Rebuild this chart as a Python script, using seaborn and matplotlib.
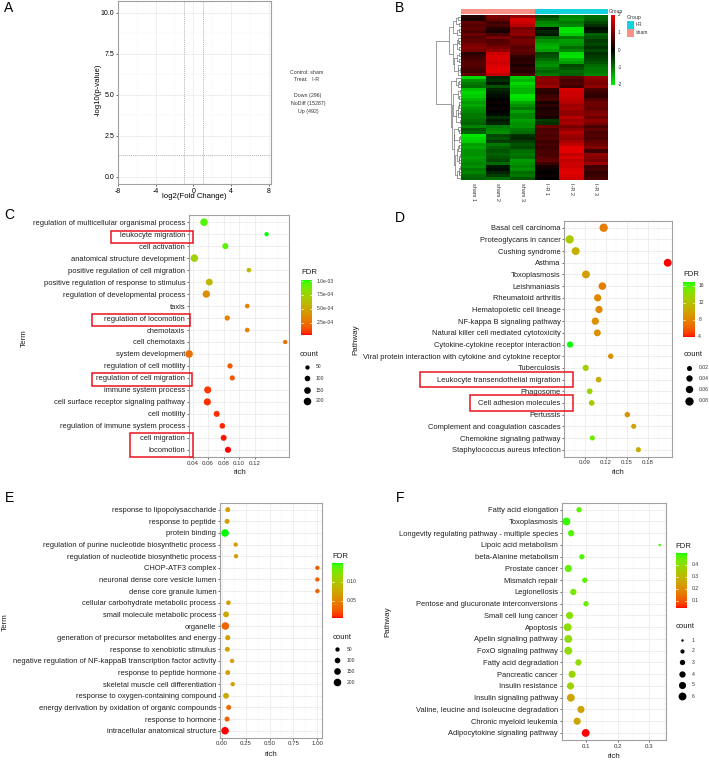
import numpy as np
import pandas as pd
import matplotlib
matplotlib.use("Agg")
import matplotlib.pyplot as plt
from matplotlib.colors import ListedColormap, LinearSegmentedColormap, Normalize
from matplotlib.patches import Rectangle
import seaborn as sns

sns.set_theme(style="white")
plt.rcParams['font.family'] = ['Liberation Sans', 'DejaVu Sans']

# ---------------------------------------------------------------- data
# Panel A (volcano summary)
A_DOWN, A_NODIFF, A_UP = 296, 15287, 492
A_CONTROL, A_TREAT = "sham", "I-R"
FC_CUTOFF = 1.0
P_CUTOFF = 0.05
A_XTICKS = [-8, -4, 0, 4, 8]
A_YTICKS = [0.0, 2.5, 5.0, 7.5, 10.0]

# Panel B (heatmap, z-scores per gene)
B_SAMPLES = ["sham 1", "sham 2", "sham 3", "I-R 1", "I-R 2", "I-R 3"]
B_GROUP = ["sham", "sham", "sham", "I-R", "I-R", "I-R"]
SHAM1 = [0.7, 0.3, 0.2, 0.8, 0.7, 0.8, 0.6, 0.9, 0.8, 1.0, 1.1, 1.0, 0.3, 0.5, 0.6, 0.6, 0.7, 0.5, 0.8, 0.7,
         -1.8, -1.2, -1.0, -0.9, -1.1, -0.7, -0.8, -1.3, -1.4, -1.2, -1.6, -1.7, -1.5, -1.8, -1.3, -1.1, -1.2,
         -1.4, -1.0, -0.9, -0.8, -1.0, -1.2, -1.3, -1.1, -1.2, -1.9, -1.8, -1.7, -1.2, -1.0, -1.1, -0.9, -0.8]
SHAM2 = [1.0, 1.0, 0.9, 0.5, 0.6, 0.3, 0.2, 0.6, 0.7, 0.8, 1.0, 1.2, 1.7, 1.8, 1.8, 1.9, 1.8, 1.9, 1.6, 1.7,
         -0.3, -0.4, -0.2, -0.7, -1.0, -1.1, -1.2, -1.0, -0.8, -0.7, -0.3, -0.1, 0.0, -0.2, 0.1, 0.0, 0.1,
         0.0, -0.1, -0.2, -0.3, -0.4, -0.8, -0.7, -0.9, -0.6, -0.6, -0.7, -0.5, -0.2, -0.1, -0.3, -0.5, -0.9]
SHAM3 = [0.8, 1.2, 1.8, 1.7, 1.5, 1.0, 1.1, 1.2, 1.0, 0.9, 0.7, 0.8, 0.7, 0.4, 0.3, 0.4, 0.2, 0.3, 0.6, 0.4,
         -1.7, -1.5, -1.8, -1.6, -1.2, -1.0, -0.9, -0.7, -0.6, -0.9, -1.5, -1.9, -1.8, -1.5, -1.4, -1.3, -1.0,
         -1.2, -1.1, -1.3, -1.2, -1.1, -1.0, -0.9, -1.2, -1.3, -0.4, -0.3, -0.5, -1.1, -1.2, -0.9, -1.0, -0.7]
IR1 = [-0.9, -0.6, -0.8, -1.1, -1.2, -0.1, -0.3, -0.2, -1.2, -1.4, -1.5, -1.3, -0.6, -0.7, -0.9, -1.0, -1.2, -0.8, -1.0, -1.1,
       1.1, 1.2, 1.1, 1.3, 0.9, 0.6, 0.7, 0.6, 0.5, 0.6, 0.4, 0.5, 0.6, 0.3, 0.2, 0.3, 0.2,
       0.4, 0.3, -0.5, -0.4, 0.2, 0.6, 0.7, 0.5, 0.8, 0.6, 0.7, 0.5, 0.2, 0.1, 0.0, 0.1, 0.0]
IR2 = [-1.0, -1.1, -1.2, -1.0, -1.1, -1.9, -1.9, -1.7, -1.3, -1.2, -0.9, -1.1, -1.8, -1.9, -1.5, -0.7, -0.6, -0.9, -0.8, -1.3,
       0.8, 0.6, 0.7, 0.5, 1.0, 1.2, 1.5, 1.6, 1.9, 1.9, 1.8, 1.7, 1.6, 1.7, 1.5, 1.2, 1.4,
       1.3, 1.2, 1.3, 1.4, 1.5, 1.6, 1.8, 1.7, 1.6, 1.3, 1.2, 1.4, 1.7, 1.8, 1.9, 1.8, 1.7]
IR3 = [-0.7, -0.9, -0.8, -0.6, -0.4, -0.1, -0.2, -0.8, -0.5, -0.6, -0.4, -0.6, -0.4, -0.5, -0.6, -1.0, -0.9, -1.0, -1.1, -0.7,
       1.2, 1.1, 1.0, 1.2, 0.6, 0.8, 0.6, 0.9, 1.1, 0.5, 0.6, 0.4, 0.7, 0.5, 0.9, 1.0, 0.8,
       0.9, 1.1, 1.2, 1.0, 0.9, 1.2, 1.1, 1.3, 1.0, 0.7, 0.6, 0.8, 0.5, 0.6, 0.4, 0.5, 0.6]
B_TICKS = [2, 1, 0, -1, -2]

# Panel C (GO terms)
C_TERMS = ["regulation of multicellular organismal process", "leukocyte migration", "cell activation",
           "anatomical structure development", "positive regulation of cell migration",
           "positive regulation of response to stimulus", "regulation of developmental process", "taxis",
           "regulation of locomotion", "chemotaxis", "cell chemotaxis", "system development",
           "regulation of cell motility", "regulation of cell migration", "immune system process",
           "cell surface receptor signaling pathway", "cell motility", "regulation of immune system process",
           "cell migration", "locomotion"]
C_RICH = [0.0546, 0.1355, 0.0822, 0.0422, 0.1127, 0.0615, 0.0576, 0.1105, 0.0847, 0.1105,
          0.1596, 0.0353, 0.0882, 0.0912, 0.0594, 0.0589, 0.0710, 0.0783, 0.0800, 0.0856]
C_FDR = [9.5e-4, 1.018e-3, 9.4e-4, 7.4e-4, 6.2e-4, 5.9e-4, 3.8e-4, 3.3e-4, 3.3e-4, 3.3e-4,
         2.5e-4, 2.5e-4, 1.7e-4, 1.6e-4, 9e-5, 8e-5, 7e-5, 6e-5, 4.5e-5, 3.1e-5]
C_COUNT = [220, 40, 120, 300, 60, 160, 190, 60, 85, 60, 25, 280, 85, 80, 175, 175, 120, 100, 115, 120]
C_FDR_TICKS = [1.0e-3, 7.5e-4, 5.0e-4, 2.5e-4]
C_FDR_LABELS = ["1.0e-03", "7.5e-04", "5.0e-04", "2.5e-04"]
C_COUNT_BREAKS = [50, 100, 150, 200]

# Panel D (KEGG pathways)
D_TERMS = ["Basal cell carcinoma", "Proteoglycans in cancer", "Cushing syndrome", "Asthma", "Toxoplasmosis",
           "Leishmaniasis", "Rheumatoid arthritis", "Hematopoietic cell lineage", "NF-kappa B signaling pathway",
           "Natural killer cell mediated cytotoxicity", "Cytokine-cytokine receptor interaction",
           "Viral protein interaction with cytokine and cytokine receptor", "Tuberculosis",
           "Leukocyte transendothelial migration", "Phagosome", "Cell adhesion molecules", "Pertussis",
           "Complement and coagulation cascades", "Chemokine signaling pathway", "Staphylococcus aureus infection"]
D_RICH = [0.1168, 0.0680, 0.0766, 0.2087, 0.0914, 0.1149, 0.1082, 0.1101, 0.1048, 0.1077,
          0.0685, 0.1269, 0.0910, 0.1096, 0.0967, 0.0996, 0.1508, 0.1599, 0.1005, 0.1666]
D_FDR = [7.6, 12.7, 10.8, 4.0, 9.4, 7.6, 8.2, 8.2, 8.7, 8.7,
         16.8, 8.7, 13.0, 10.4, 13.3, 12.7, 8.7, 9.8, 15.3, 10.4]
D_COUNT = [0.088, 0.088, 0.072, 0.070, 0.070, 0.064, 0.057, 0.057, 0.057, 0.050,
           0.037, 0.025, 0.037, 0.030, 0.030, 0.030, 0.025, 0.012, 0.016, 0.006]
D_FDR_TICKS = [16, 12, 8, 4]
D_COUNT_BREAKS = [0.02, 0.04, 0.06, 0.08]

# Panel E (GO terms)
E_TERMS = ["response to lipopolysaccharide", "response to peptide", "protein binding",
           "regulation of purine nucleotide biosynthetic process", "regulation of nucleotide biosynthetic process",
           "CHOP-ATF3 complex", "neuronal dense core vesicle lumen", "dense core granule lumen",
           "cellular carbohydrate metabolic process", "small molecule metabolic process", "organelle",
           "generation of precursor metabolites and energy", "response to xenobiotic stimulus",
           "negative regulation of NF-kappaB transcription factor activity", "response to peptide hormone",
           "skeletal muscle cell differentiation", "response to oxygen-containing compound",
           "energy derivation by oxidation of organic compounds", "response to hormone",
           "intracellular anatomical structure"]
E_RICH = [0.063, 0.056, 0.035, 0.146, 0.150, 1.0, 1.0, 1.0, 0.070, 0.045,
          0.038, 0.063, 0.059, 0.108, 0.063, 0.115, 0.045, 0.073, 0.056, 0.035]
E_FDR = [0.066, 0.066, 0.148, 0.066, 0.066, 0.028, 0.028, 0.028, 0.066, 0.074,
         0.030, 0.066, 0.066, 0.066, 0.066, 0.066, 0.074, 0.032, 0.030, 0.0037]
E_COUNT = [75, 75, 230, 35, 35, 15, 15, 15, 60, 110, 300, 80, 70, 30, 70, 45, 110, 75, 80, 340]
E_FDR_TICKS = [0.10, 0.05]
E_COUNT_BREAKS = [50, 100, 150, 200]

# Panel F (KEGG pathways)
F_TERMS = ["Fatty acid elongation", "Toxoplasmosis", "Longevity regulating pathway - multiple species",
           "Lipoic acid metabolism", "beta-Alanine metabolism", "Prostate cancer", "Mismatch repair",
           "Legionellosis", "Pentose and glucuronate interconversions", "Small cell lung cancer", "Apoptosis",
           "Apelin signaling pathway", "FoxO signaling pathway", "Fatty acid degradation", "Pancreatic cancer",
           "Insulin resistance", "Insulin signaling pathway", "Valine, leucine and isoleucine degradation",
           "Chronic myeloid leukemia", "Adipocytokine signaling pathway"]
F_RICH = [0.078, 0.038, 0.053, 0.333, 0.087, 0.044, 0.096, 0.060, 0.100, 0.048,
          0.042, 0.044, 0.044, 0.076, 0.056, 0.051, 0.052, 0.084, 0.072, 0.099]
F_FDR = [0.461, 0.484, 0.470, 0.480, 0.466, 0.456, 0.461, 0.433, 0.447, 0.406,
         0.396, 0.396, 0.396, 0.383, 0.378, 0.369, 0.253, 0.244, 0.253, 0.036]
F_COUNT = [3, 6, 4, 1, 3, 5, 3, 4, 3, 5, 6, 6, 6, 4, 5, 5, 6, 5, 5, 6]
F_FDR_TICKS = [0.4, 0.3, 0.2, 0.1]
F_COUNT_BREAKS = [1, 2, 3, 4, 5, 6]

# ---------------------------------------------------------------- helpers
W, H, DPI = 709, 761, 100
fig = plt.figure(figsize=(W / DPI, H / DPI), dpi=DPI)
fig.patch.set_facecolor("white")


def px_axes(l, t, r, b):
    return fig.add_axes([l / W, 1 - b / H, (r - l) / W, (b - t) / H])


def _srgb_to_lab(rgb):
    rgb = np.asarray(rgb, float)
    lin = np.where(rgb <= 0.04045, rgb / 12.92, ((rgb + 0.055) / 1.055) ** 2.4)
    M = np.array([[0.4124564, 0.3575761, 0.1804375], [0.2126729, 0.7151522, 0.0721750],
                  [0.0193339, 0.1191920, 0.9503041]])
    xyz = M @ lin / np.array([0.95047, 1.0, 1.08883])
    f = np.where(xyz > 0.008856, np.cbrt(xyz), 7.787 * xyz + 16 / 116)
    return np.array([116 * f[1] - 16, 500 * (f[0] - f[1]), 200 * (f[1] - f[2])])


def _lab_to_srgb(lab):
    L, a, b = lab.T
    fy = (L + 16) / 116
    fx = fy + a / 500
    fz = fy - b / 200

    def finv(t):
        return np.where(t ** 3 > 0.008856, t ** 3, (t - 16 / 116) / 7.787)
    xyz = np.stack([finv(fx) * 0.95047, finv(fy), finv(fz) * 1.08883])
    Minv = np.array([[3.2404542, -1.5371385, -0.4985314], [-0.9692660, 1.8760108, 0.0415560],
                     [0.0556434, -0.2040259, 1.0572252]])
    lin = np.clip(Minv @ xyz, 0, 1)
    srgb = np.where(lin <= 0.0031308, 12.92 * lin, 1.055 * lin ** (1 / 2.4) - 0.055)
    return np.clip(srgb.T, 0, 1)


_lo = _srgb_to_lab([1, 0, 0])
_hi = _srgb_to_lab([0, 1, 0])
_t = np.linspace(0, 1, 256)[:, None]
FDR_CMAP = ListedColormap(_lab_to_srgb(_lo + _t * (_hi - _lo)))
HEAT_CMAP = LinearSegmentedColormap.from_list("gbr", ["#00F000", "#000000", "#F00000"])

ov = fig.add_axes([0, 0, 1, 1])
ov.set_zorder(20)
ov.patch.set_alpha(0)
ov.axis("off")


def reset_ov():
    ov.set_xlim(0, W)
    ov.set_ylim(H, 0)


reset_ov()

SIZE_SCALE = 1.08


def area_pt(d_px):
    return (0.72 * d_px * SIZE_SCALE) ** 2


def diam(v, calib):
    (c0, d0), (c1, d1) = calib
    return np.sqrt(d0 ** 2 + (v - c0) * (d1 ** 2 - d0 ** 2) / (c1 - c0))


TXT = "#1e1e1e"


def dot_panel(rect, terms, rich, fdr, count, xlim, xticks, xticklabels, xminor, fdr_lim, calib):
    ax = px_axes(*rect)
    df = pd.DataFrame({"term": terms, "rich": rich, "FDR": fdr, "count": count})
    (c0, d0), (c1, d1) = calib
    sns.scatterplot(data=df, x="rich", y="term", hue="FDR", palette=FDR_CMAP, hue_norm=fdr_lim,
                    size="count", sizes=(area_pt(d0), area_pt(d1)), size_norm=(c0, c1),
                    legend=False, linewidth=0, ax=ax, clip_on=False, zorder=3)
    n = len(terms)
    ax.set_ylim(n - 0.4, -0.6)
    ax.set_xlim(*xlim)
    ax.set_xticks(xticks)
    ax.set_xticklabels(xticklabels, fontsize=4.4, color="#333333")
    ax.set_xticks(xminor, minor=True)
    ax.set_yticks(range(n))
    ax.set_yticklabels(terms, fontsize=5.4, color=TXT)
    ax.tick_params(axis="both", which="major", length=1.7, width=0.5, color="#333333", pad=1.0,
                   left=True, bottom=True)
    ax.tick_params(axis="x", which="minor", length=0, bottom=False)
    ax.grid(True, which="major", color="#EBEBEB", lw=0.55)
    ax.grid(True, which="minor", axis="x", color="#F4F4F4", lw=0.35)
    ax.set_axisbelow(True)
    ax.set_facecolor("white")
    for s in ax.spines.values():
        s.set_color("#A0A0A0")
        s.set_linewidth(0.8)
    ax.set_xlabel("")
    ax.set_ylabel("")
    return ax


def fdr_legend(title_xy, bar, vlim, ticks, labels, label_x):
    x0, x1, y0, y1 = bar
    ov.text(title_xy[0], title_xy[1], "FDR", fontsize=5.6, ha="left", va="center", color=TXT)
    grad = np.linspace(vlim[1], vlim[0], 256)[:, None]
    ov.imshow(grad, cmap=FDR_CMAP, norm=Normalize(*vlim), extent=(x0, x1, y1, y0), aspect="auto",
              origin="upper", interpolation="bilinear", zorder=1)
    for tv, tl in zip(ticks, labels):
        yy = y1 - (tv - vlim[0]) / (vlim[1] - vlim[0]) * (y1 - y0)
        ov.text(label_x, yy, tl, fontsize=3.6, ha="left", va="center", color="#333333")
        ov.plot([x0, x0 + 2], [yy, yy], color="white", lw=0.5, zorder=2)
        ov.plot([x1 - 2, x1], [yy, yy], color="white", lw=0.5, zorder=2)
    reset_ov()


def size_legend(title_xy, dot_x, label_x, ys, breaks, calib):
    ov.text(title_xy[0], title_xy[1], "count", fontsize=5.6, ha="left", va="center", color=TXT)
    for yy, v in zip(ys, breaks):
        ov.scatter([dot_x], [yy], s=area_pt(diam(v, calib)), color="black", linewidths=0)
        ov.text(label_x, yy, f"{v:g}", fontsize=3.6, ha="left", va="center", color="#333333")
    reset_ov()


def panel_letter(x, y, s):
    ov.text(x, y, s, fontsize=10, ha="center", va="center", color="black")


def red_box(l, t, r, b):
    ov.add_patch(Rectangle((l, t), r - l, b - t, fill=False, edgecolor="#E8141C", lw=1.1, zorder=5))


# ---------------------------------------------------------------- Panel A
axA = px_axes(118, 1, 271, 184)
axA.set_xlim(-7.93, 8.24)
axA.set_ylim(-0.44, 10.73)
axA.set_xticks(A_XTICKS)
axA.set_xticklabels([f"{v:g}" for v in A_XTICKS], fontsize=5.0, color="black")
axA.set_yticks(A_YTICKS)
axA.set_yticklabels([f"{v:.1f}" for v in A_YTICKS], fontsize=5.0, color="black")
axA.set_xticks([-6, -2, 2, 6], minor=True)
axA.set_yticks([1.25, 3.75, 6.25, 8.75], minor=True)
axA.grid(True, which="major", color="#EBEBEB", lw=0.55)
axA.grid(True, which="minor", color="#F4F4F4", lw=0.35)
axA.set_axisbelow(True)
axA.tick_params(axis="both", which="major", length=1.7, width=0.5, color="#333333", pad=1.0,
                left=True, bottom=True)
axA.tick_params(which="minor", length=0)
for s in axA.spines.values():
    s.set_color("#A0A0A0")
    s.set_linewidth(0.8)
for xv in (-FC_CUTOFF, FC_CUTOFF):
    axA.axvline(xv, color="#9A9A9A", lw=0.5, ls=(0, (1.5, 1.5)))
axA.axhline(-np.log10(P_CUTOFF), color="#9A9A9A", lw=0.5, ls=(0, (1.5, 1.5)))
ov.text(194, 197, "log2(Fold Change)", fontsize=5.6, ha="center", va="center", color="black")
ov.text(98, 90, "-log10(p-value)", fontsize=5.6, ha="center", va="center", rotation=90, color="black")
ov.text(307, 73, f"Control: {A_CONTROL}", fontsize=3.8, ha="center", va="center", color="#333333")
ov.text(307, 79.5, f"Treat:   {A_TREAT}", fontsize=3.8, ha="center", va="center", color="#333333")
ov.text(308, 95, f"Down ({A_DOWN})", fontsize=3.8, ha="center", va="center", color="#333333")
ov.text(308, 103, f"NoDiff ({A_NODIFF})", fontsize=3.8, ha="center", va="center", color="#333333")
ov.text(308, 111, f"Up ({A_UP})", fontsize=3.8, ha="center", va="center", color="#333333")
panel_letter(8.5, 8.5, "A")

# ---------------------------------------------------------------- Panel B
expr = pd.DataFrame({B_SAMPLES[0]: SHAM1, B_SAMPLES[1]: SHAM2, B_SAMPLES[2]: SHAM3,
                     B_SAMPLES[3]: IR1, B_SAMPLES[4]: IR2, B_SAMPLES[5]: IR3})
X = expr.values
n = len(X)
D = np.sqrt(((X[:, None, :] - X[None, :, :]) ** 2).sum(-1))
N = 2 * n - 1
DD = np.full((N, N), np.inf)
DD[:n, :n] = D
np.fill_diagonal(DD, np.inf)
active = set(range(n))
children, heights = {}, {}
members = {i: [i] for i in range(n)}
nid = n
while len(active) > 1:
    act = sorted(active)
    sub = DD[np.ix_(act, act)]
    k = int(np.argmin(sub))
    i, j = act[k // len(act)], act[k % len(act)]
    if np.mean(members[j]) < np.mean(members[i]):
        i, j = j, i
    children[nid] = (i, j)
    heights[nid] = DD[i, j]
    members[nid] = members[i] + members[j]
    for m in active:
        if m not in (i, j):
            DD[nid, m] = DD[m, nid] = max(DD[i, m], DD[j, m])
    active -= {i, j}
    active.add(nid)
    nid += 1
root = nid - 1


def leaf_order(node):
    if node < n:
        return [node]
    a, b = children[node]
    return leaf_order(a) + leaf_order(b)


order = leaf_order(root)
ypos = {leaf: k + 0.5 for k, leaf in enumerate(order)}
xpos = {leaf: 0.0 for leaf in range(n)}

axDen = px_axes(436, 15, 461, 180)


def draw_node(node):
    if node < n:
        return
    a, b = children[node]
    draw_node(a)
    draw_node(b)
    h = heights[node]
    ypos[node] = (ypos[a] + ypos[b]) / 2
    xpos[node] = h
    axDen.plot([xpos[a], h], [ypos[a], ypos[a]], color="#555555", lw=0.4)
    axDen.plot([xpos[b], h], [ypos[b], ypos[b]], color="#555555", lw=0.4)
    axDen.plot([h, h], [ypos[a], ypos[b]], color="#555555", lw=0.4)


draw_node(root)
axDen.set_xlim(heights[root] * 1.0, 0)
axDen.set_ylim(n, 0)
axDen.axis("off")

axH = px_axes(461, 15, 608, 180)
sns.heatmap(expr.iloc[order].reset_index(drop=True), cmap=HEAT_CMAP, vmin=-2, vmax=2, cbar=False,
            ax=axH, xticklabels=True, yticklabels=False)
axH.set_xticklabels(B_SAMPLES, rotation=270, fontsize=4.0, ha="center", va="top", color="#333333")
axH.tick_params(axis="x", length=0, pad=2)
axH.set_xlabel("")
axH.set_ylabel("")

SHAM_COL, IR_COL = "#FA9187", "#12D2DB"
axAnn = px_axes(461, 9, 608, 14)
codes = pd.DataFrame([[0 if g == "sham" else 1 for g in B_GROUP]], columns=B_SAMPLES)
sns.heatmap(codes, cmap=ListedColormap([SHAM_COL, IR_COL]), vmin=0, vmax=1, cbar=False,
            xticklabels=False, yticklabels=False, ax=axAnn)

ov.imshow(np.linspace(2, -2, 256)[:, None], cmap=HEAT_CMAP, norm=Normalize(-2, 2),
          extent=(611, 615, 85, 15), aspect="auto", origin="upper", zorder=1)
reset_ov()
for tv in B_TICKS:
    yy = 85 - (tv + 2) / 4 * 70
    ov.text(617.5, yy, f"{tv:g}", fontsize=3.4, ha="left", va="center", color="#333333")
ov.text(609, 11.5, "Group", fontsize=3.6, ha="left", va="center", color="#333333")
ov.text(627, 17, "Group", fontsize=3.8, ha="left", va="center", color="#333333")
ov.add_patch(Rectangle((627, 21.3), 6.5, 7.5, color=IR_COL, lw=0))
ov.add_patch(Rectangle((627, 29.3), 6.5, 7.5, color=SHAM_COL, lw=0))
ov.text(636, 25, "I-R", fontsize=3.6, ha="left", va="center", color="#333333")
ov.text(636, 33, "sham", fontsize=3.6, ha="left", va="center", color="#333333")
panel_letter(399.5, 8.5, "B")

# ---------------------------------------------------------------- Panel C
C_CAL = ((50, 4.0), (200, 7.0))
dot_panel((189, 215, 289, 457), C_TERMS, C_RICH, C_FDR, C_COUNT, (0.0352, 0.1645),
          [0.04, 0.06, 0.08, 0.10, 0.12], ["0.04", "0.06", "0.08", "0.10", "0.12"],
          [0.05, 0.07, 0.09, 0.11, 0.13, 0.15], (3.1e-5, 1.018e-3), C_CAL)
ov.text(24, 338, "Term", fontsize=5.8, rotation=90, ha="center", va="center", color=TXT)
ov.text(240, 473, "rich", fontsize=5.8, ha="center", va="center", color=TXT)
fdr_legend((301.5, 272), (301, 312, 280, 335), (3.1e-5, 1.018e-3), C_FDR_TICKS, C_FDR_LABELS, 316.5)
size_legend((300, 354), 307, 316, [367, 378.3, 390, 400.7], C_COUNT_BREAKS, C_CAL)
red_box(111, 231, 193, 243.3)
red_box(92, 314, 189.5, 326)
red_box(92, 373, 192, 386)
red_box(130, 433.3, 193, 457)
panel_letter(9, 215, "C")

# ---------------------------------------------------------------- Panel D
D_CAL = ((0.02, 4.7), (0.08, 7.7))
dot_panel((564.3, 220.7, 672.3, 456.7), D_TERMS, D_RICH, D_FDR, D_COUNT, (0.0603, 0.2153),
          [0.09, 0.12, 0.15, 0.18], ["0.09", "0.12", "0.15", "0.18"],
          [0.075, 0.105, 0.135, 0.165, 0.195], (4.0, 16.8), D_CAL)
ov.text(356, 340, "Pathway", fontsize=5.8, rotation=90, ha="center", va="center", color=TXT)
ov.text(618, 472, "rich", fontsize=5.8, ha="center", va="center", color=TXT)
fdr_legend((683.3, 274), (683.3, 695, 282.3, 336.7), (4.0, 16.8), D_FDR_TICKS,
           [str(v) for v in D_FDR_TICKS], 698.3)
size_legend((683.3, 355), 689.3, 698.3, [367.7, 378.3, 389.3, 400.7], D_COUNT_BREAKS, D_CAL)
red_box(420, 371.7, 573.3, 386.7)
red_box(470.3, 395, 573.3, 410.7)
panel_letter(400.3, 218, "D")

# ---------------------------------------------------------------- Panel E
E_CAL = ((50, 4.0), (200, 7.0))
dot_panel((220, 502.7, 321.7, 737.7), E_TERMS, E_RICH, E_FDR, E_COUNT, (-0.018, 1.0455),
          [0.0, 0.25, 0.5, 0.75, 1.0], ["0.00", "0.25", "0.50", "0.75", "1.00"],
          [0.125, 0.375, 0.625, 0.875], (0.0037, 0.1484), E_CAL)
ov.text(5, 622, "Term", fontsize=5.8, rotation=90, ha="center", va="center", color=TXT)
ov.text(271, 755, "rich", fontsize=5.8, ha="center", va="center", color=TXT)
fdr_legend((332.3, 556), (332.3, 343.3, 563.3, 618.3), (0.0037, 0.1484), E_FDR_TICKS,
           ["0.10", "0.05"], 346.7)
size_legend((332.3, 637.3), 337.3, 346.7, [649.3, 660.3, 671.3, 682.3], E_COUNT_BREAKS, E_CAL)
panel_letter(9.5, 497.7, "E")

# ---------------------------------------------------------------- Panel F
F_CAL = ((1, 2.3), (6, 7.3))
dot_panel((561.7, 502.7, 665.7, 740), F_TERMS, F_RICH, F_FDR, F_COUNT, (0.0232, 0.3518),
          [0.1, 0.2, 0.3], ["0.1", "0.2", "0.3"],
          [0.05, 0.15, 0.25, 0.35], (0.036, 0.498), F_CAL)
ov.text(388, 622, "Pathway", fontsize=5.8, rotation=90, ha="center", va="center", color=TXT)
ov.text(614, 756, "rich", fontsize=5.8, ha="center", va="center", color=TXT)
fdr_legend((675.7, 546), (675.7, 686.7, 553.3, 608.3), (0.036, 0.498), F_FDR_TICKS,
           [f"{v:g}" for v in F_FDR_TICKS], 691.7)
size_legend((675.7, 626.7), 681.7, 691.7, [640, 651, 662.3, 674, 685, 696], F_COUNT_BREAKS, F_CAL)
panel_letter(399.7, 497.7, "F")

fig.savefig("out.png", dpi=DPI, facecolor="white")
